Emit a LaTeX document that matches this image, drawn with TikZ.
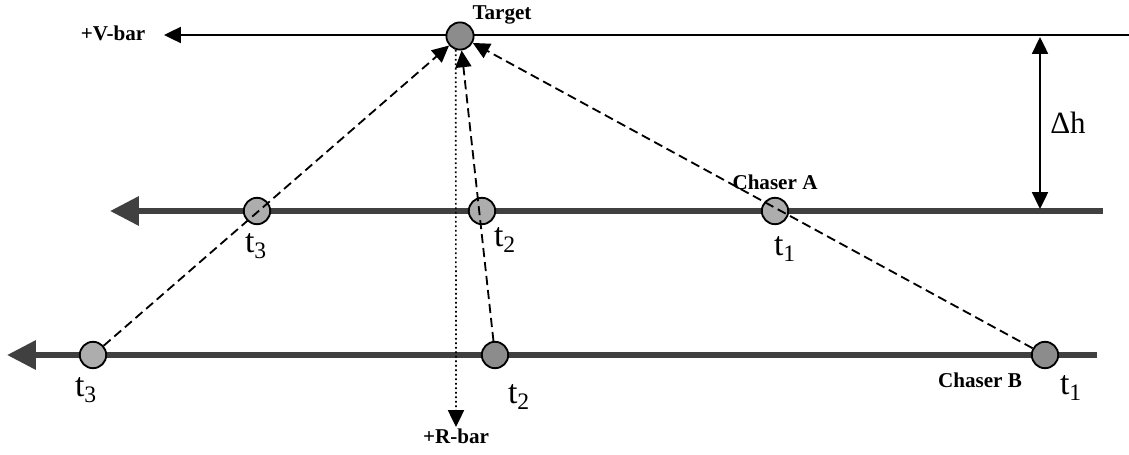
\documentclass[tikz,border=0pt]{standalone}
\usepackage{fontspec}
\setmainfont{Liberation Serif}
\usetikzlibrary{arrows.meta, positioning}
\definecolor{lightdot}{gray}{0.68}
\definecolor{darkdot}{gray}{0.55}
\definecolor{trackgray}{gray}{0.25}

\begin{document}
\begin{tikzpicture}[
    x=0.025cm, y=-0.025cm,
    >={Triangle[length=0.42cm, width=0.40cm]},
    chaser/.style={draw, circle, fill=lightdot, line width=1.3pt, minimum size=0.66cm, inner sep=0pt},
    track/.style={line width=4.2pt, trackgray, -{Triangle[length=0.72cm, width=0.70cm]}},
    tag/.style={font=\bfseries\fontsize{15}{17}\selectfont, inner sep=1pt},
    tlabel/.style={font=\fontsize{24}{26}\selectfont, inner sep=1pt},
    sight/.style={line width=1.3pt, dash pattern=on 6.5pt off 3.5pt, ->},
]
    \useasboundingbox (0,0) rectangle (1129,454);

    % V-bar line
    \node[tag] (vbar) at (113,33) {+V-bar};
    \coordinate (vend) at (1129,35);
    \coordinate (vtip) at (164,35);
    \draw[line width=1.2pt, ->] (vend) -- (vtip);

    % Chaser tracks
    \coordinate (aend) at (1103,211);
    \coordinate (atip) at (110,211);
    \coordinate (bend) at (1097,355);
    \coordinate (btip) at (7,355);
    \draw[track] (aend) -- (atip);
    \draw[track] (bend) -- (btip);

    % Target
    \node[chaser, fill=darkdot, minimum size=0.68cm] (target) at (460,36) {};
    \node[tag] (targetlbl) at (502,15) {Target};

    % Chaser A positions
    \node[chaser] (a3) at (257,211) {};
    \node[chaser] (a2) at (482,211) {};
    \node[chaser] (a1) at (775,211) {};

    % Chaser B positions
    \node[chaser] (b3) at (93,355) {};
    \node[chaser, fill=darkdot] (b2) at (495,355) {};
    \node[chaser, fill=darkdot] (b1) at (1045,355) {};

    % Lines of sight
    \draw[sight] (b3) -- (target);
    \draw[sight] (b2) -- (target);
    \draw[sight] (b1) -- (target);

    % R-bar
    \coordinate (rtip) at (456,427);
    \draw[line width=1.2pt, dotted, ->] (target.-107) -- (rtip);
    \node[tag, below=0cm of rtip] (rbar) {+R-bar};

    % Height difference
    \coordinate (dhtop) at (1040,37);
    \coordinate (dhbot) at (1040,209);
    \draw[line width=1.2pt, <->] (dhtop) -- node[midway, right=0.12cm, font=\fontsize{22}{24}\selectfont] (dh) {Δh} (dhbot);

    % Labels
    \node[tag] (alabel) at (775,182) {Chaser A};
    \node[tag] (blabel) at (980,380) {Chaser B};
    \node[tlabel] (a3t) at (256,246) {t\textsubscript{3}};
    \node[tlabel] (a2t) at (505,240) {t\textsubscript{2}};
    \node[tlabel] (a1t) at (785,249) {t\textsubscript{1}};
    \node[tlabel] (b3t) at (86,390) {t\textsubscript{3}};
    \node[tlabel] (b2t) at (519,397) {t\textsubscript{2}};
    \node[tlabel] (b1t) at (1071,388) {t\textsubscript{1}};
\end{tikzpicture}
\end{document}
